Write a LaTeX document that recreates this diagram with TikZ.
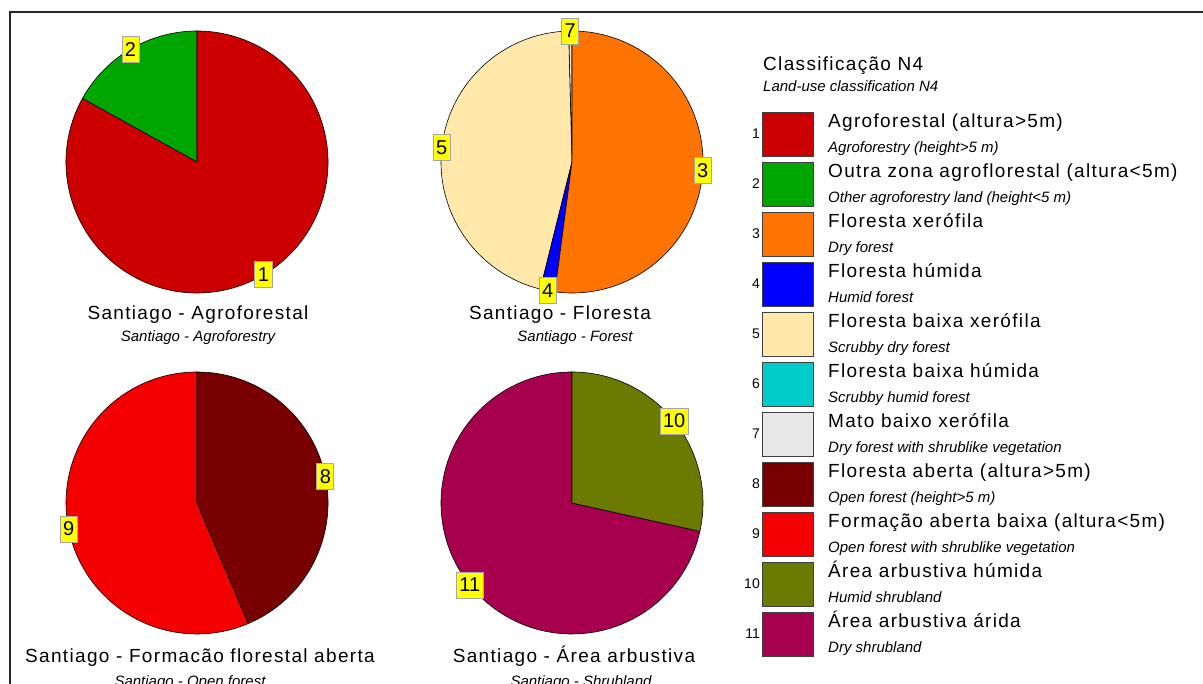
\documentclass[tikz,border=0pt]{standalone}
\usepackage{fontspec}
\usetikzlibrary{calc}
\setmainfont{Liberation Sans}
\newfontfamily\trackfont[LetterSpace=7]{Liberation Sans}
\definecolor{c1}{HTML}{CC0000}
\definecolor{c2}{HTML}{00A600}
\definecolor{c3}{HTML}{FF7300}
\definecolor{c4}{HTML}{0000FF}
\definecolor{c5}{HTML}{FFE8AA}
\definecolor{c6}{HTML}{00CCCC}
\definecolor{c7}{HTML}{E8E8E8}
\definecolor{c8}{HTML}{780000}
\definecolor{c9}{HTML}{F50000}
\definecolor{c10}{HTML}{6B7A00}
\definecolor{c11}{HTML}{A6004F}
\definecolor{tagyellow}{HTML}{FFFF00}
\newcommand\pieslice[6]{\filldraw[pieline, fill=#6] (#1,#2) -- ++(#4:#3) arc[start angle=#4, end angle=#5, radius=#3] -- cycle;}
\begin{document}
\begin{tikzpicture}[x=1pt,y=1pt,
  pieline/.style={draw=black, line width=0.6pt},
  tag/.style={fill=tagyellow, draw=black!35, line width=0.9pt, inner xsep=3pt, inner ysep=0pt, minimum height=26pt, font=\fontsize{20}{20}\selectfont},
  ttl/.style={font=\trackfont\fontsize{19}{21}\selectfont, anchor=base, inner sep=0},
  subttl/.style={font=\itshape\fontsize{15}{17}\selectfont, anchor=base, inner sep=0},
  leg/.style={font=\trackfont\fontsize{19}{21}\selectfont, anchor=base west, inner sep=0},
  legsub/.style={font=\itshape\fontsize{15}{17}\selectfont, anchor=base west, inner sep=0},
  legnum/.style={font=\fontsize{14}{16}\selectfont, anchor=east, inner sep=0},
  legbox/.style={draw=black!75, line width=1pt, minimum width=51pt, minimum height=44pt, anchor=north west, inner sep=0}]
\useasboundingbox (0,0) rectangle (1203,684);
\draw[black!85, line width=1.3pt] (10,0) -- (10,672) -- (1203,672);

% Pie 1: Agroforestal
\pieslice{197}{522}{131}{90}{151}{c2}
\pieslice{197}{522}{131}{151}{450}{c1}
\node[tag] (t1) at ($(197,522)+(300.5:131)$) {1};
\node[tag] (t2) at ($(197,522)+(120.5:131)$) {2};
\node[ttl] (title1) at (198,364) {Santiago - Agroforestal};
\node[subttl] (sub1) at (198,342) {Santiago - Agroforestry};

% Pie 2: Floresta
\pieslice{572}{522}{131}{90}{91.5}{c7}
\pieslice{572}{522}{131}{91.5}{256}{c5}
\pieslice{572}{522}{131}{256}{262.5}{c4}
\pieslice{572}{522}{131}{262.5}{450}{c3}
\node[tag] (t7) at ($(572,522)+(90.75:131)$) {7};
\node[tag] (t5) at ($(572,522)+(173.75:131)$) {5};
\node[tag] (t4) at ($(572,522)+(259.25:131)$) {4};
\node[tag] (t3) at ($(572,522)+(356.25:131)$) {3};
\node[ttl] (title2) at (560,364) {Santiago - Floresta};
\node[subttl] (sub2) at (575,342) {Santiago - Forest};

% Pie 3: Formacao florestal aberta
\pieslice{197}{181}{131}{90}{293}{c9}
\pieslice{197}{181}{131}{293}{450}{c8}
\node[tag] (t8) at ($(197,181)+(11.5:131)$) {8};
\node[tag] (t9) at ($(197,181)+(191.5:131)$) {9};
\node[ttl] (title3) at (200,21) {Santiago - Formacão florestal aberta};
\node[subttl] (sub3) at (190,-3) {Santiago - Open forest};

% Pie 4: Area arbustiva
\pieslice{572}{181}{131}{90}{347.5}{c11}
\pieslice{572}{181}{131}{347.5}{450}{c10}
\node[tag] (t10) at ($(572,181)+(38.75:131)$) {10};
\node[tag] (t11) at ($(572,181)+(218.75:131)$) {11};
\node[ttl] (title4) at (574,21) {Santiago - Área arbustiva};
\node[subttl] (sub4) at (581,-3) {Santiago - Shrubland};

% Legend
\node[leg] (legtitle) at (763,613.3) {Classificação N4};
\node[legsub] (legsubtitle) at (763,592.3) {Land-use classification N4};
\foreach \i/\c/\m/\s in {
  1/c1/{Agroforestal (altura>5m)}/{Agroforestry (height>5 m)},
  2/c2/{Outra zona agroflorestal (altura<5m)}/{Other agroforestry land (height<5 m)},
  3/c3/{Floresta xerófila}/{Dry forest},
  4/c4/{Floresta húmida}/{Humid forest},
  5/c5/{Floresta baixa xerófila}/{Scrubby dry forest},
  6/c6/{Floresta baixa húmida}/{Scrubby humid forest},
  7/c7/{Mato baixo xerófila}/{Dry forest with shrublike vegetation},
  8/c8/{Floresta aberta (altura>5m)}/{Open forest (height>5 m)},
  9/c9/{Formação aberta baixa (altura<5m)}/{Open forest with shrublike vegetation},
  10/c10/{Área arbustiva húmida}/{Humid shrubland},
  11/c11/{Área arbustiva árida}/{Dry shrubland}}{
  \pgfmathsetmacro\ytop{572-50*(\i-1)}
  \node[legbox, fill=\c] (box\i) at (762,\ytop) {};
  \node[legnum] (num\i) at (760,\ytop-22) {\i};
  \node[leg] (lab\i) at (828,\ytop-15.3) {\m};
  \node[legsub] (sub\i) at (828,\ytop-40.3) {\s};
}
\end{tikzpicture}
\end{document}
